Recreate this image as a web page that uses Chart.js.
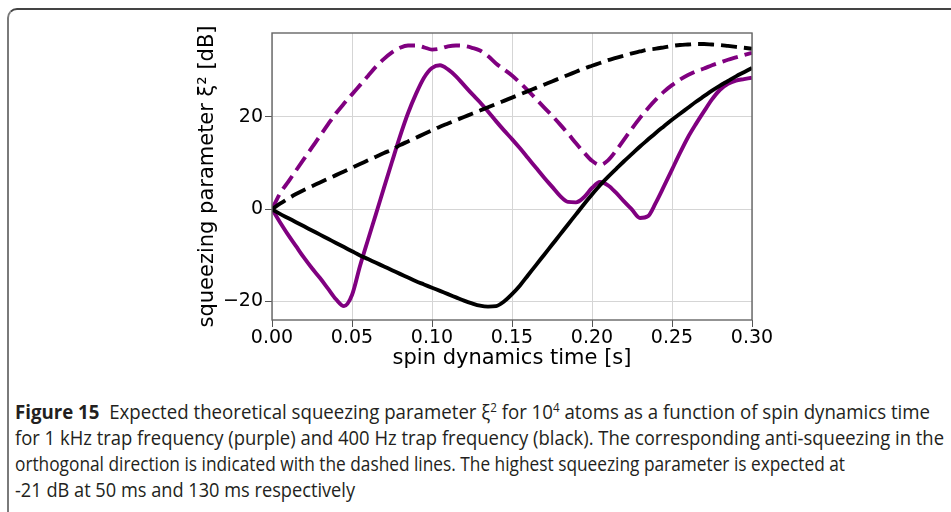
<!DOCTYPE html>
<html>
<head>
<meta charset="utf-8">
<script src="https://cdn.jsdelivr.net/npm/chart.js@4.4.0/dist/chart.umd.min.js"></script>
<style>
  html, body { margin: 0; padding: 0; background: #fff; }
  body { width: 951px; height: 512px; position: relative; overflow: hidden; }
  #moldura {
    position: absolute; left: 7px; top: 8px; width: 980px; height: 540px;
    border-left: 2px solid #7a7a7a; border-top: 2px solid #444;
    border-top-left-radius: 10px;
  }
  #grafico { position: absolute; left: 0; top: 0; width: 951px; height: 375px; }
  #legenda {
    position: absolute; left: 15px; top: 399px;
    font-family: "Open Sans", sans-serif; font-size: 19.5px; color: #231f20;
  }
  #legenda .linha {
    height: 26px; line-height: 26px; white-space: nowrap;
    width: max-content; transform-origin: left center;
  }
  #legenda sup { font-size: 0.62em; line-height: 0; vertical-align: 0.55em; }
</style>
</head>
<body>
<div id="moldura"></div>
<div id="grafico"><canvas id="canvasGrafico"></canvas></div>
<div id="legenda">
  <div class="linha" data-w="915"><b>Figure 15</b>&nbsp; Expected theoretical squeezing parameter ξ<sup>2</sup> for 10<sup>4</sup> atoms as a function of spin dynamics time</div>
  <div class="linha" data-w="929">for 1 kHz trap frequency (purple) and 400 Hz trap frequency (black). The corresponding anti-squeezing in the</div>
  <div class="linha" data-w="830">orthogonal direction is indicated with the dashed lines. The highest squeezing parameter is expected at</div>
  <div class="linha" data-w="340">-21 dB at 50 ms and 130 ms respectively</div>
</div>
<script>
// Tempo de dinâmica de spin [s]
const tempos = [
  0, 0.005, 0.01, 0.015, 0.02, 0.025, 0.03, 0.035, 0.04, 0.045,
  0.05, 0.055, 0.06, 0.065, 0.07, 0.075, 0.08, 0.085, 0.09, 0.095,
  0.1, 0.105, 0.11, 0.115, 0.12, 0.125, 0.13, 0.135, 0.14, 0.145,
  0.15, 0.155, 0.16, 0.165, 0.17, 0.175, 0.18, 0.185, 0.19, 0.195,
  0.2, 0.205, 0.21, 0.215, 0.22, 0.225, 0.23, 0.235, 0.24, 0.245,
  0.25, 0.255, 0.26, 0.265, 0.27, 0.275, 0.28, 0.285, 0.29, 0.295, 0.3
];

// 1 kHz (roxo) - squeezing e anti-squeezing [dB]
const roxoSqueezing = [
  0, -2.8, -5.5, -8.0, -10.5, -12.8, -14.9, -17.2, -19.5, -21.0,
  -18.6, -12.3, -6.6, -1.0, 4.7, 10.3, 15.8, 20.8, 25.0, 28.5,
  30.6, 31.2, 30.3, 28.8, 26.9, 25.0, 23.2, 21.2, 19.1, 17.1,
  15.2, 13.2, 11.1, 9.0, 6.9, 4.9, 2.9, 1.6, 1.5, 2.6,
  4.6, 5.9, 5.2, 3.6, 1.7, -0.1, -1.9, -1.5, 1.5, 5.0,
  8.6, 12.2, 15.6, 18.5, 21.2, 23.8, 25.9, 27.2, 27.9, 28.2, 28.5
];
const roxoAnti = [
  0, 3.4, 5.9, 8.4, 10.9, 13.4, 15.9, 18.4, 20.8, 22.9,
  24.9, 26.9, 28.9, 30.9, 32.6, 34.0, 35.0, 35.5, 35.5, 35.1,
  34.6, 34.8, 35.3, 35.5, 35.4, 35.0, 34.4, 33.2, 31.6, 30.3,
  29.0, 27.4, 25.7, 23.9, 22.1, 20.3, 18.4, 16.4, 14.3, 12.3,
  10.5, 9.6, 10.6, 12.7, 15.1, 17.5, 19.8, 21.9, 23.8, 25.5,
  26.9, 28.1, 29.1, 29.9, 30.5, 31.2, 31.8, 32.4, 32.9, 33.4, 33.9
];

// 400 Hz (preto) - squeezing e anti-squeezing [dB]
const pretoSqueezing = [
  0, -1.0, -1.9, -2.8, -3.7, -4.6, -5.5, -6.4, -7.3, -8.2,
  -9.1, -10.0, -10.8, -11.6, -12.4, -13.2, -14.0, -14.8, -15.6, -16.3,
  -17.0, -17.7, -18.4, -19.1, -19.8, -20.4, -20.9, -21.1, -21.0, -20.0,
  -18.4, -16.5, -14.3, -12.1, -9.9, -7.7, -5.5, -3.3, -1.1, 1.1,
  3.2, 5.2, 7.0, 8.7, 10.4, 12.0, 13.6, 15.1, 16.6, 18.0,
  19.4, 20.7, 22.0, 23.3, 24.5, 25.7, 26.8, 27.8, 28.8, 29.7, 30.6
];
const pretoAnti = [
  0, 1.2, 2.3, 3.3, 4.2, 5.0, 5.8, 6.6, 7.4, 8.2,
  9.0, 9.8, 10.6, 11.4, 12.2, 12.9, 13.9, 14.7, 15.5, 16.3,
  17.1, 17.9, 18.6, 19.3, 20.0, 20.7, 21.4, 22.1, 22.8, 23.5,
  24.2, 24.9, 25.6, 26.3, 27.0, 27.7, 28.4, 29.1, 29.8, 30.5,
  31.1, 31.7, 32.3, 32.8, 33.3, 33.8, 34.2, 34.6, 34.8, 35.1,
  35.4, 35.6, 35.7, 35.8, 35.8, 35.7, 35.6, 35.4, 35.2, 35.0, 34.8
];

// Ticks dos eixos
const ticksX = [0, 0.05, 0.1, 0.15, 0.2, 0.25, 0.3];
const ticksY = [-20, 0, 20];

const ROXO = '#800080';
const PRETO = '#000000';

function pontos(valores) {
  return tempos.map((t, i) => ({ x: t, y: valores[i] }));
}

function serie(valores, cor, tracejada) {
  return {
    data: pontos(valores),
    borderColor: cor,
    borderWidth: 3.9,
    borderDash: tracejada ? [16, 7] : [],
    pointRadius: 0,
    fill: false,
    cubicInterpolationMode: 'monotone'
  };
}

// Moldura do gráfico (estilo matplotlib, com os quatro lados)
const molduraPlugin = {
  id: 'molduraPlugin',
  afterDatasetsDraw(chart) {
    const a = chart.chartArea;
    const ctx = chart.ctx;
    ctx.save();
    ctx.strokeStyle = '#666';
    ctx.lineWidth = 1.4;
    ctx.strokeRect(a.left, a.top, a.right - a.left, a.bottom - a.top);
    ctx.restore();
  }
};

const fonteTicks = { family: 'DejaVu Sans', size: 19 };
const fonteTitulo = { family: 'DejaVu Sans', size: 21 };

new Chart(document.getElementById('canvasGrafico'), {
  type: 'line',
  data: {
    datasets: [
      serie(pretoSqueezing, PRETO, false),
      serie(pretoAnti, PRETO, true),
      serie(roxoSqueezing, ROXO, false),
      serie(roxoAnti, ROXO, true)
    ]
  },
  options: {
    responsive: true,
    maintainAspectRatio: false,
    animation: false,
    events: [],
    plugins: { legend: { display: false }, tooltip: { enabled: false } },
    layout: { padding: { left: 191, right: 199, top: 33, bottom: 0 } },
    scales: {
      x: {
        type: 'linear',
        min: 0,
        max: 0.3,
        afterBuildTicks: (s) => { s.ticks = ticksX.map(v => ({ value: v })); },
        afterFit: (s) => { s.height = 55; },
        ticks: {
          font: fonteTicks, color: '#000', padding: 0, maxRotation: 0, autoSkip: false,
          callback: (v) => Number(v).toFixed(2)
        },
        grid: { color: '#d5d5d5', lineWidth: 1, tickLength: 7, tickColor: '#555' },
        border: { display: false },
        title: { display: true, text: 'spin dynamics time [s]', font: fonteTitulo, color: '#000', padding: { top: 4, bottom: 4 } }
      },
      y: {
        min: -24,
        max: 38.2,
        afterBuildTicks: (s) => { s.ticks = ticksY.map(v => ({ value: v })); },
        afterFit: (s) => { s.width = 81; },
        ticks: {
          font: fonteTicks, color: '#000', padding: 2,
          callback: (v) => String(v).replace('-', '\u2212')
        },
        grid: { color: '#d5d5d5', lineWidth: 1, tickLength: 7, tickColor: '#555' },
        border: { display: false },
        title: { display: true, text: 'squeezing parameter ξ² [dB]', font: fonteTitulo, color: '#000', padding: { top: 4, bottom: 4 } }
      }
    }
  },
  plugins: [molduraPlugin]
});

// Ajusta a largura de cada linha da legenda
document.querySelectorAll('#legenda .linha').forEach(function (linha) {
  const alvo = parseFloat(linha.dataset.w);
  const largura = linha.getBoundingClientRect().width;
  linha.style.transform = 'scaleX(' + (alvo / largura) + ')';
});
</script>
</body>
</html>
